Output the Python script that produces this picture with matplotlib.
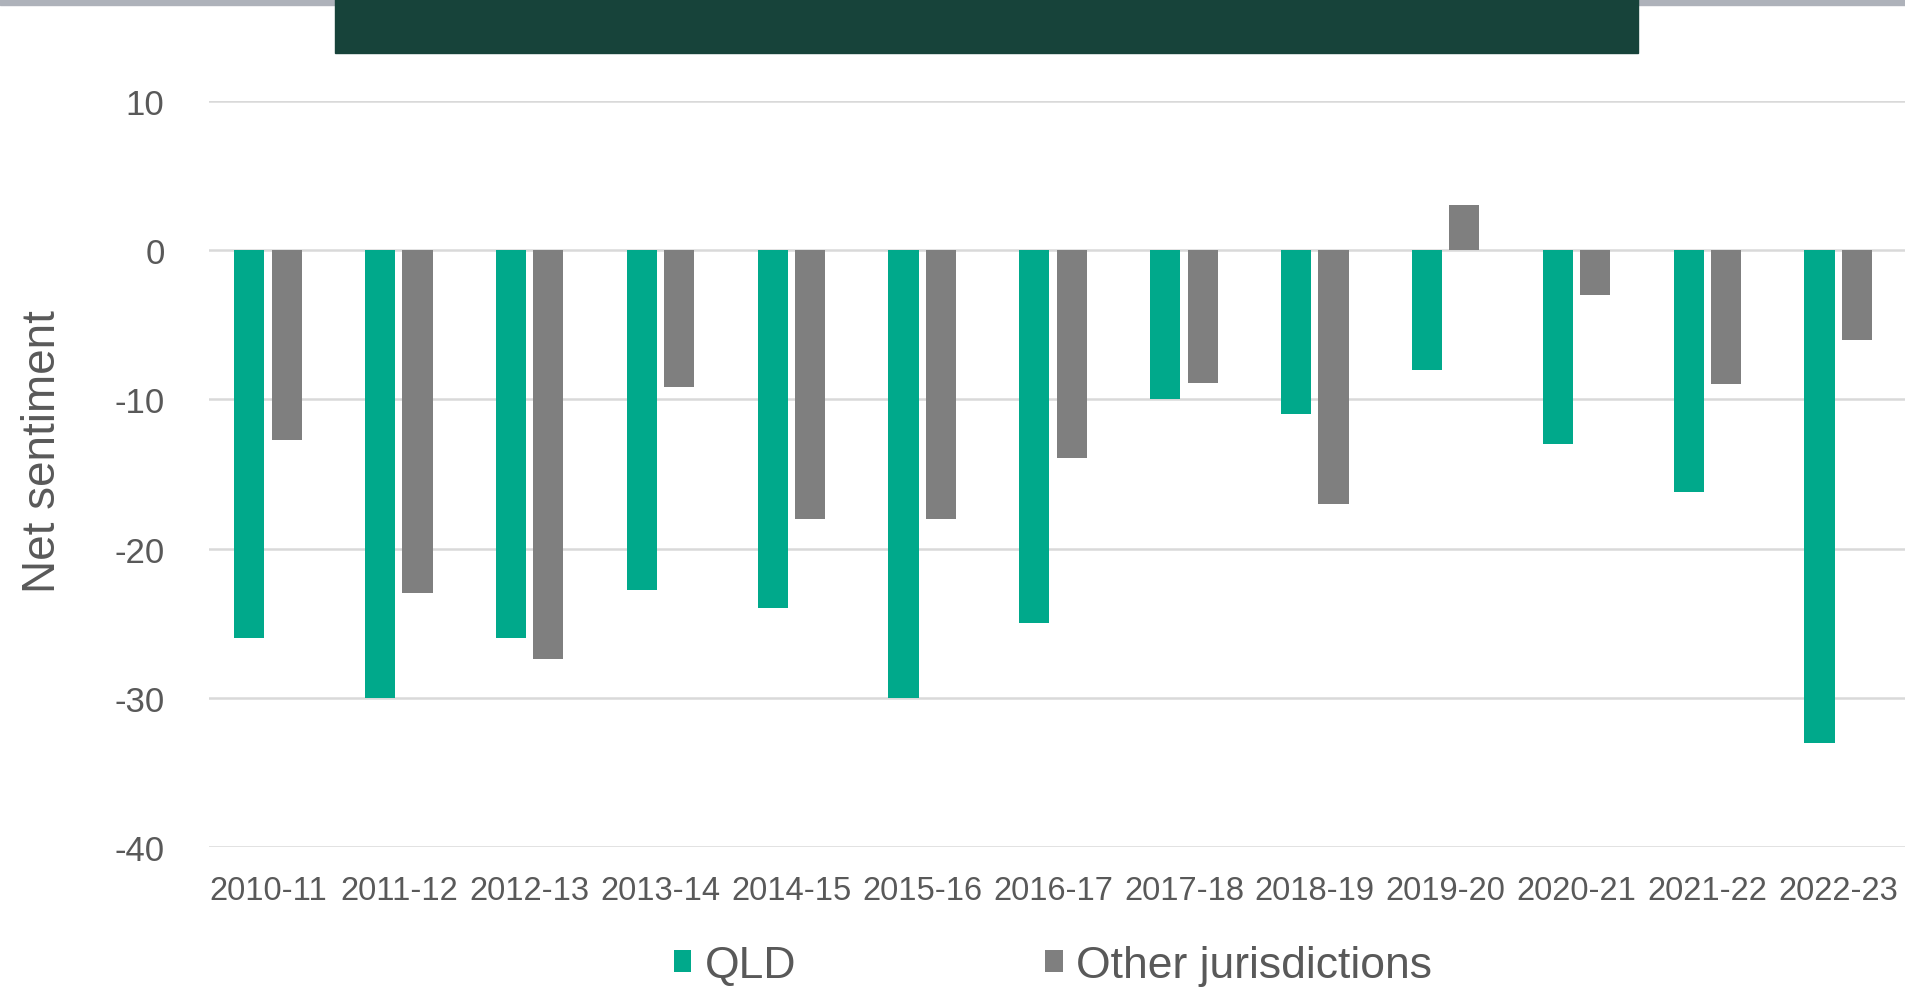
import matplotlib
matplotlib.use('Agg')
from matplotlib import pyplot as plt
from matplotlib.patches import Rectangle
import numpy as np

years = ['2010-11', '2011-12', '2012-13', '2013-14', '2014-15', '2015-16', '2016-17',
         '2017-18', '2018-19', '2019-20', '2020-21', '2021-22', '2022-23']
qld = [-26, -30, -26, -22.8, -24, -30, -25, -10, -11, -8, -13, -16.2, -33]
other = [-12.7, -23, -27.4, -9.2, -18, -18, -13.9, -8.9, -17, 3, -3, -9, -6]
y_ticks = [10, 0, -10, -20, -30, -40]

GREEN = '#00A98B'
GREY = '#7F7F7F'
TEXT = '#595959'
font = ['Liberation Sans', 'DejaVu Sans']
plt.rcParams['axes.unicode_minus'] = False

fig = plt.figure(figsize=(19.05, 9.95), dpi=100)
ax = fig.add_axes([209 / 1905, 1 - 848 / 995, 1 - 209 / 1905, (848 - 102) / 995])

x = np.arange(len(years))
w = 0.23
off = 0.143
ax.bar(x - off, qld, w, color=GREEN, label='QLD', zorder=3)
ax.bar(x + off, other, w, color=GREY, label='Other jurisdictions', zorder=3)

ax.set_xlim(-0.45, 12.51)
ax.set_ylim(-40, 10)
ax.set_yticks(y_ticks)
ax.set_xticks(x)
ax.set_xticklabels(years)
ax.grid(axis='y', color='#D9D9D9', linewidth=1.8, zorder=0)
ax.tick_params(length=0, labelcolor=TEXT)
ax.tick_params(axis='x', pad=20)
ax.tick_params(axis='y', pad=32)
for lab in ax.get_xticklabels():
    lab.set_family(font)
    lab.set_fontsize(23.5)
for lab in ax.get_yticklabels():
    lab.set_family(font)
    lab.set_fontsize(25)
for s in ax.spines.values():
    s.set_visible(False)

ax.set_ylabel('Net sentiment', family=font, fontsize=33, color=TEXT)
ax.yaxis.set_label_coords(-0.085, 0.532)

leg = fig.legend(loc='center', bbox_to_anchor=(1053 / 1905, 0.029), ncol=2, frameon=False,
                 prop={'family': font, 'size': 32}, handlelength=0.4, handleheight=0.4,
                 handletextpad=0.3, columnspacing=5.6)
for t in leg.get_texts():
    t.set_color(TEXT)

# header strip and dark banner
fig.patches.append(Rectangle((0, 1 - 6 / 995), 1, 6 / 995, transform=fig.transFigure,
                             color='#AEB2BA', zorder=5))
fig.patches.append(Rectangle((335 / 1905, 1 - 53.5 / 995), 1303 / 1905, 53.5 / 995,
                             transform=fig.transFigure, color='#17433A', zorder=6))

fig.savefig('out.png', dpi=100)
